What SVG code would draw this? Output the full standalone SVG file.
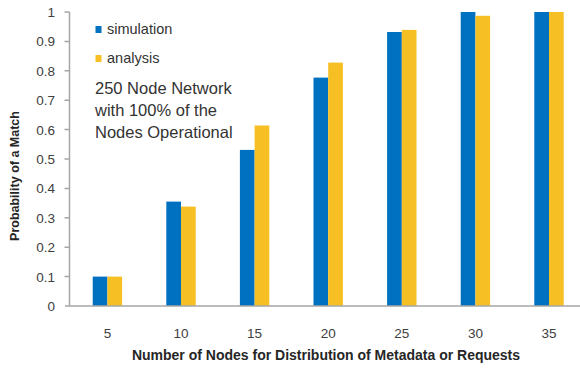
<svg xmlns="http://www.w3.org/2000/svg" width="580" height="369" viewBox="0 0 580 369">
<style>
.sim{fill:#0070C0}
.ana{fill:#F6BF23}
.ax{stroke:#A6A6A6;stroke-width:1.5;fill:none}
.tl{font-family:"Liberation Sans",Arial,sans-serif;font-size:13.5px;fill:#404040}
.yl{text-anchor:end}
.xl{text-anchor:middle}
.lg{font-family:"Liberation Sans",Arial,sans-serif;font-size:14.5px;fill:#333}
.note{font-family:"Liberation Sans",Arial,sans-serif;font-size:16.5px;fill:#333}
.title{font-family:"Liberation Sans",Arial,sans-serif;font-size:12.5px;font-weight:bold;fill:#262626;text-anchor:middle}
</style>
<rect width="580" height="369" fill="#fff"/>
<g id="bars">
<rect class="sim" x="92.7" y="276.6" width="14.7" height="29.4"/>
<rect class="ana" x="107.4" y="276.6" width="14.7" height="29.4"/>
<rect class="sim" x="166.3" y="201.6" width="14.7" height="104.4"/>
<rect class="ana" x="181" y="206.6" width="14.7" height="99.4"/>
<rect class="sim" x="239.9" y="149.9" width="14.7" height="156.1"/>
<rect class="ana" x="254.6" y="125.5" width="14.7" height="180.5"/>
<rect class="sim" x="313.5" y="77.6" width="14.7" height="228.4"/>
<rect class="ana" x="328.2" y="62.6" width="14.7" height="243.4"/>
<rect class="sim" x="387.1" y="32" width="14.7" height="274"/>
<rect class="ana" x="401.8" y="29.9" width="14.7" height="276.1"/>
<rect class="sim" x="460.7" y="12" width="14.7" height="294"/>
<rect class="ana" x="475.4" y="15.8" width="14.7" height="290.2"/>
<rect class="sim" x="534.3" y="12" width="14.7" height="294"/>
<rect class="ana" x="549" y="12" width="14.7" height="294"/>
</g>
<g id="axes">
<path class="ax" d="M69.5 12V306M65 306H580"/>
<path class="ax" d="M64.5 12H69.5M64.5 41.4H69.5M64.5 70.8H69.5M64.5 100.2H69.5M64.5 129.6H69.5M64.5 159H69.5M64.5 188.4H69.5M64.5 217.8H69.5M64.5 247.2H69.5M64.5 276.6H69.5"/>
</g>
<g id="ylabels" class="tl yl">
<text x="55" y="17">1</text>
<text x="55" y="46.4">0.9</text>
<text x="55" y="75.8">0.8</text>
<text x="55" y="105.2">0.7</text>
<text x="55" y="134.6">0.6</text>
<text x="55" y="164">0.5</text>
<text x="55" y="193.4">0.4</text>
<text x="55" y="222.8">0.3</text>
<text x="55" y="252.2">0.2</text>
<text x="55" y="281.6">0.1</text>
<text x="55" y="311">0</text>
</g>
<g id="xlabels" class="tl xl">
<text x="107.4" y="337.5">5</text>
<text x="181" y="337.5">10</text>
<text x="254.6" y="337.5">15</text>
<text x="328.2" y="337.5">20</text>
<text x="401.8" y="337.5">25</text>
<text x="475.4" y="337.5">30</text>
<text x="549" y="337.5">35</text>
</g>
<g id="legend">
<rect class="sim" x="95.5" y="26" width="6" height="7"/>
<text class="lg" x="107" y="34">simulation</text>
<rect class="ana" x="95.5" y="55" width="6" height="7"/>
<text class="lg" x="107" y="63">analysis</text>
</g>
<g id="note" class="note">
<text x="95" y="93.5">250 Node Network</text>
<text x="95" y="115.5">with 100% of the</text>
<text x="95" y="137.5">Nodes Operational</text>
</g>
<text class="title" transform="translate(19 176) rotate(-90)">Probability of a Match</text>
<text class="title" x="326" y="360" style="font-size:14px">Number of Nodes for Distribution of Metadata or Requests</text>
</svg>
